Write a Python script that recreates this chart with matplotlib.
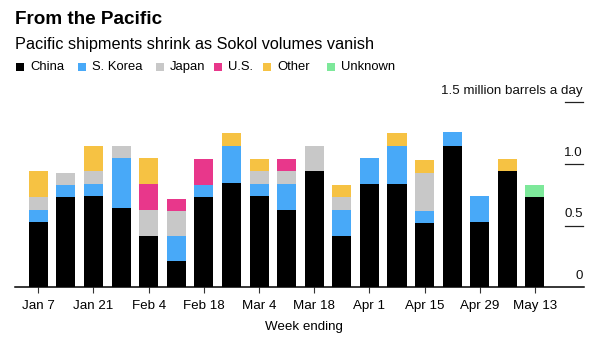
import matplotlib
matplotlib.use("Agg")
import matplotlib.pyplot as plt
import matplotlib.transforms as mtransforms
from matplotlib.patches import Rectangle
import numpy as np

plt.rcParams['font.family'] = ['Liberation Sans', 'DejaVu Sans']

weeks = ["Jan 7", "Jan 14", "Jan 21", "Jan 28", "Feb 4", "Feb 11", "Feb 18", "Feb 25",
         "Mar 4", "Mar 11", "Mar 18", "Mar 25", "Apr 1", "Apr 8", "Apr 15", "Apr 22",
         "Apr 29", "May 6", "May 13"]

# million barrels a day, by destination
china   = [0.53, 0.73, 0.74, 0.64, 0.42, 0.21, 0.73, 0.85, 0.74, 0.63, 0.94, 0.42, 0.84, 0.84, 0.52, 1.15, 0.53, 0.94, 0.73]
korea   = [0.10, 0.10, 0.10, 0.41, 0.00, 0.21, 0.10, 0.30, 0.10, 0.21, 0.00, 0.21, 0.21, 0.31, 0.10, 0.11, 0.21, 0.00, 0.00]
japan   = [0.10, 0.10, 0.10, 0.10, 0.21, 0.20, 0.00, 0.00, 0.10, 0.10, 0.21, 0.10, 0.00, 0.00, 0.31, 0.00, 0.00, 0.00, 0.00]
us      = [0.00, 0.00, 0.00, 0.00, 0.21, 0.10, 0.21, 0.00, 0.00, 0.10, 0.00, 0.00, 0.00, 0.00, 0.00, 0.00, 0.00, 0.00, 0.00]
other   = [0.21, 0.00, 0.21, 0.00, 0.21, 0.00, 0.00, 0.10, 0.10, 0.00, 0.00, 0.10, 0.00, 0.10, 0.10, 0.00, 0.00, 0.10, 0.00]
unknown = [0.00, 0.00, 0.00, 0.00, 0.00, 0.00, 0.00, 0.00, 0.00, 0.00, 0.00, 0.00, 0.00, 0.00, 0.00, 0.00, 0.00, 0.00, 0.10]

names = ["China", "S. Korea", "Japan", "U.S.", "Other", "Unknown"]
colors = ["#000000", "#48a9f8", "#c8c8c8", "#e8378b", "#f6c243", "#7de89a"]
values = [china, korea, japan, us, other, unknown]

yticks = [0, 0.5, 1.0, 1.5]
ytick_labels = ["0", "0.5", "1.0", "1.5 million barrels a day"]
xtick_idx = list(range(0, len(weeks), 2))

W, H = 600, 339
fig = plt.figure(figsize=(W / 100, H / 100), dpi=100)
ax = fig.add_axes([0.0245, 0.1525, 0.9485, 0.5635])

x = np.arange(len(weeks))
bottom = np.zeros(len(weeks))
for vals, color in zip(values, colors):
    vals = np.array(vals)
    ax.bar(x, vals, width=0.69, bottom=bottom, color=color, linewidth=0)
    bottom += vals

ax.set_xlim(-0.855, 19.77)
ax.set_ylim(0, 1.55)

for s in ["top", "right", "left"]:
    ax.spines[s].set_visible(False)
ax.spines["bottom"].set_linewidth(1.1)
ax.spines["bottom"].set_color("#000000")

ax.set_yticks([])
ax.set_xticks(xtick_idx)
ax.set_xticklabels([weeks[i] for i in xtick_idx], fontsize=9.6)
ax.tick_params(axis="x", length=4, width=0.8, color="#333333", pad=5)
ax.set_xlabel("Week ending", fontsize=9.6)
ax.xaxis.set_label_coords(0.5075, -0.175)

# short reference lines with values on the right
trans = mtransforms.blended_transform_factory(ax.transAxes, ax.transData)
label_shift = mtransforms.ScaledTranslation(0, 4 / 72, fig.dpi_scale_trans)
for v, lab in zip(yticks, ytick_labels):
    if v > 0:
        ax.plot([0.9665, 0.9985], [v, v], transform=trans, color="#222222",
                lw=0.9, clip_on=False)
    ax.text(0.9985, v, lab, transform=trans + label_shift,
            ha="right", va="bottom", fontsize=9.6, color="#111111")

fig.text(15 / W, 1 - 19.5 / H, "From the Pacific", fontsize=13.6, fontweight="bold",
         va="center", ha="left")
fig.text(15 / W, 1 - 44 / H, "Pacific shipments shrink as Sokol volumes vanish",
         fontsize=11.7, va="center", ha="left")

# legend row: colour squares followed by names
legend_x = [16, 78, 156, 214, 263, 327]
sq = 8
for lx, name, color in zip(legend_x, names, colors):
    fig.patches.append(Rectangle((lx / W, 1 - 71 / H), sq / W, sq / H,
                                 transform=fig.transFigure, facecolor=color,
                                 edgecolor="none"))
    fig.text((lx + sq + 6) / W, 1 - 67 / H, name, fontsize=9.4,
             va="center", ha="left")

fig.savefig("out.png", dpi=100)
